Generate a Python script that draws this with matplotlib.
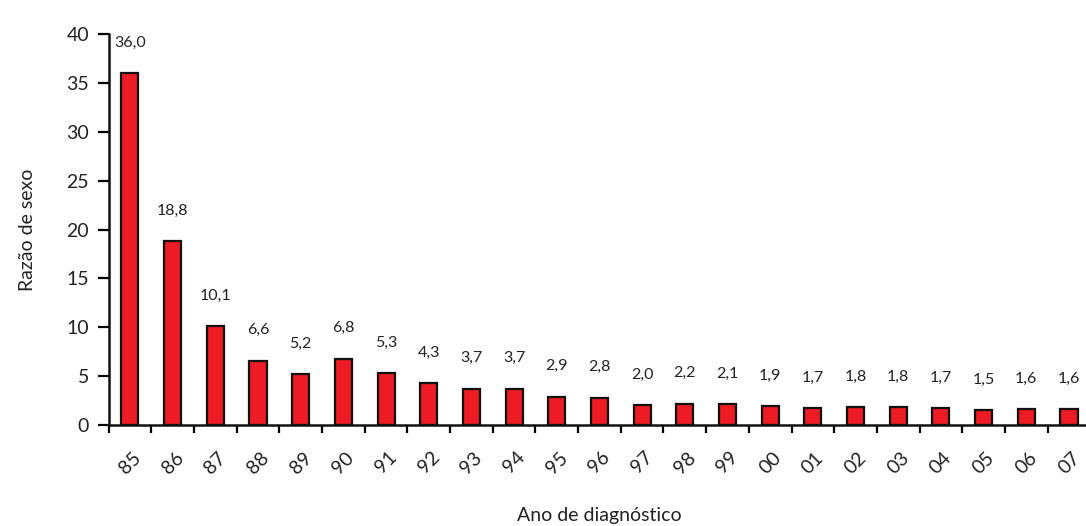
import matplotlib
matplotlib.use("Agg")
import matplotlib.pyplot as plt
import numpy as np

years = ["85", "86", "87", "88", "89", "90", "91", "92", "93", "94", "95", "96",
         "97", "98", "99", "00", "01", "02", "03", "04", "05", "06", "07"]
ratios = [36.0, 18.8, 10.1, 6.6, 5.2, 6.8, 5.3, 4.3, 3.7, 3.7, 2.9, 2.8,
          2.0, 2.2, 2.1, 1.9, 1.7, 1.8, 1.8, 1.7, 1.5, 1.6, 1.6]
yticks = [0, 5, 10, 15, 20, 25, 30, 35, 40]

plt.rcParams['font.family'] = ['Lato', 'DejaVu Sans']

fig = plt.figure(figsize=(10.86, 5.26), dpi=100)
ax = fig.add_axes([0.1000, 0.192, 0.904, 0.743])

x = np.arange(len(years))
ax.bar(x, ratios, width=0.4, color='#ED1C24', edgecolor='#111111', linewidth=1.6, zorder=3)

for xi, v in zip(x, ratios):
    ax.annotate(f"{v:.1f}".replace('.', ','), (xi, v), xytext=(0, 22),
                textcoords='offset points', ha='center', va='center',
                fontsize=11.5, color='#222222', annotation_clip=False)

ax.set_xlim(-0.5, len(years) - 0.5)
ax.set_ylim(0, 40)
ax.set_yticks(yticks)
ax.set_yticklabels([str(t) for t in yticks], fontsize=14, color='#222222')
ax.tick_params(axis='y', direction='out', length=8, width=1.6, pad=6)

ax.set_xticks(x)
ax.set_xticklabels(years, rotation=45, ha='center', va='top', fontsize=14, color='#222222')
ax.set_xticks(np.arange(len(years) + 1) - 0.5, minor=True)
ax.tick_params(axis='x', which='major', length=0, pad=17)
ax.tick_params(axis='x', which='minor', direction='out', length=6, width=1.6)

for s in ['top', 'right']:
    ax.spines[s].set_visible(False)
for s in ['left', 'bottom']:
    ax.spines[s].set_linewidth(1.8)
    ax.spines[s].set_color('#111111')

ax.set_ylabel("Razão de sexo", fontsize=14, color='#222222', labelpad=22)
ax.set_xlabel("Ano de diagnóstico", fontsize=14, color='#222222', labelpad=22)

fig.savefig("out.png", dpi=100)
